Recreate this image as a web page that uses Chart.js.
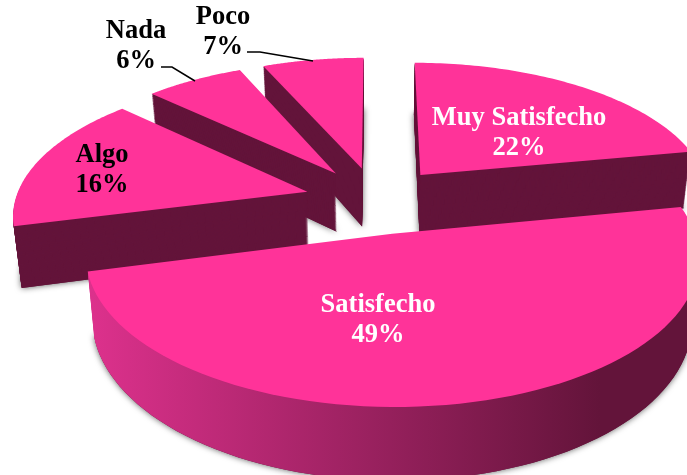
<!DOCTYPE html>
<html>
<head>
<meta charset="utf-8">
<style>
  html, body { margin: 0; padding: 0; background: #fff; overflow: hidden; }
  canvas { display: block; }
</style>
<script src="https://cdn.jsdelivr.net/npm/chart.js"></script>
</head>
<body>
<canvas id="myChart" width="687" height="475"></canvas>
<script>
// Values (labels show them rounded)
const categories = ["Muy Satisfecho", "Satisfecho", "Algo", "Nada", "Poco"];
const percents = [22, 49, 16, 6.4, 6.6];

// Text colour and label centre for each slice
const labelColors = ["#fff", "#fff", "#000", "#000", "#000"];
const labelX = [519, 378, 102, 136, 223];
const labelY = [118, 305, 155, 31, 17];

// Leader lines, only Nada and Poco have one
const leaders = {
  3: [[161, 67], [172, 67], [195, 81]],
  4: [[247, 52], [260, 52], [313, 61]],
};

// The fake 3D view
const view = { cx: 376, cy: 200, rx: 292, ry: 136, explode: 0.245, persp: 0.15, depth: 60, taper: 0.022 };

function project(x, y) {
  const s = 1 / (1 - view.persp * y);
  return { x: view.cx + view.rx * x * s, y: view.cy + view.ry * y * s, s: s };
}

// Outline of one arc element, with the library's angles
function slicePoints(arc) {
  const mid = (arc.startAngle + arc.endAngle) / 2;
  const ox = view.explode * Math.cos(mid);
  const oy = view.explode * Math.sin(mid);
  const pts = [project(ox, oy)];
  const steps = 80;
  for (let i = 0; i <= steps; i++) {
    const a = arc.startAngle + ((arc.endAngle - arc.startAngle) * i) / steps;
    pts.push(project(ox + Math.cos(a), oy + Math.sin(a)));
  }
  return pts;
}

function tracePath(ctx, pts, down) {
  const shrink = 1 - (view.taper * down) / view.depth;
  ctx.beginPath();
  pts.forEach((p, i) => {
    const x = view.cx + (p.x - view.cx) * shrink;
    const y = p.y + down * p.s;
    if (i === 0) ctx.moveTo(x, y);
    else ctx.lineTo(x, y);
  });
  ctx.closePath();
}

const pie3d = {
  id: "pie3d",
  beforeDatasetDraw(chart) {
    const ctx = chart.ctx;
    const arcs = chart.getDatasetMeta(0).data.map((arc, index) => ({ arc, index }));
    const midY = (a) => Math.sin((a.arc.startAngle + a.arc.endAngle) / 2);
    arcs.sort((a, b) => midY(a) - midY(b));

    arcs.forEach(({ arc, index }) => {
      const pts = slicePoints(arc);
      let wall = "#63143A";
      if (categories[index] === "Satisfecho") {
        wall = ctx.createLinearGradient(92, 0, 600, 0);
        wall.addColorStop(0, "#DC318C");
        wall.addColorStop(1, "#63143A");
      }

      // Soft shadow under the wall
      ctx.save();
      ctx.shadowColor = "rgba(0,0,0,0.65)";
      ctx.shadowBlur = 6;
      ctx.fillStyle = "#63143A";
      tracePath(ctx, pts, view.depth);
      ctx.fill();
      ctx.restore();

      ctx.fillStyle = wall;
      for (let d = view.depth; d > 0; d--) {
        tracePath(ctx, pts, d);
        ctx.fill();
      }

      ctx.fillStyle = arc.options.backgroundColor;
      tracePath(ctx, pts, 0);
      ctx.fill();
    });
    return false;
  },
  afterDraw(chart) {
    const ctx = chart.ctx;
    ctx.save();
    ctx.strokeStyle = "#000";
    ctx.lineWidth = 1.5;
    Object.values(leaders).forEach((line) => {
      ctx.beginPath();
      line.forEach((p, i) => (i === 0 ? ctx.moveTo(p[0], p[1]) : ctx.lineTo(p[0], p[1])));
      ctx.stroke();
    });
    ctx.font = "bold 26.5px 'Liberation Serif'";
    ctx.textAlign = "center";
    ctx.textBaseline = "middle";
    categories.forEach((name, i) => {
      ctx.fillStyle = labelColors[i];
      ctx.fillText(name, labelX[i], labelY[i]);
      ctx.fillText(Math.round(percents[i]) + "%", labelX[i], labelY[i] + 30);
    });
    ctx.restore();
  },
};

new Chart(document.getElementById("myChart"), {
  type: "pie",
  data: {
    labels: categories,
    datasets: [{ data: percents, backgroundColor: "#FF3399", borderWidth: 0 }],
  },
  options: {
    responsive: false,
    animation: false,
    plugins: { legend: { display: false }, tooltip: { enabled: false } },
  },
  plugins: [pie3d],
});
</script>
</body>
</html>
